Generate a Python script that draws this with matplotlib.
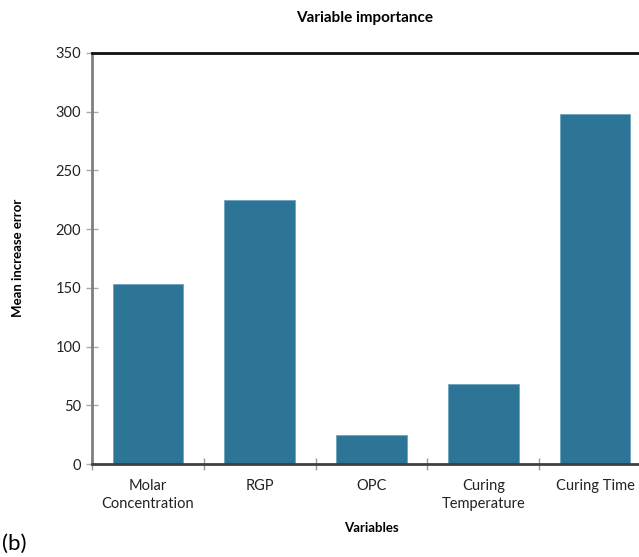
import matplotlib.pyplot as plt
import numpy as np

plt.rcParams['font.family'] = ['Lato', 'DejaVu Sans']

variables = ["Molar\nConcentration", "RGP", "OPC", "Curing\nTemperature", "Curing Time"]
importance = [153, 225, 25, 68, 298]
yticks = [0, 50, 100, 150, 200, 250, 300, 350]

bar_color = '#2D7596'

fig = plt.figure(figsize=(6.39, 5.57), dpi=100)
# axes run a little past the right edge of the figure
ax = fig.add_axes([92 / 639, 93 / 557, 559 / 639, 411 / 557])

x = np.arange(len(variables))
ax.bar(x, importance, width=0.63, color=bar_color, edgecolor='#6fa3bd', linewidth=0.6, zorder=2)

ax.set_xlim(-0.5, len(variables) - 0.5)
ax.set_ylim(0, 350)
ax.set_yticks(yticks)
ax.set_yticklabels([str(v) for v in yticks], fontsize=10.5, color='#222222')

# category labels sit between the boundary ticks
ax.set_xticks(x)
ax.set_xticklabels(variables, fontsize=10.5, color='#222222', linespacing=1.35)
ax.tick_params(axis='x', which='major', length=0, pad=11)
ax.set_xticks(np.arange(len(variables)) - 0.5, minor=True)
ax.tick_params(axis='x', which='minor', direction='inout', length=9, width=1, color='#999999')
ax.tick_params(axis='y', direction='inout', length=8, width=1, color='#aaaaaa', pad=4)

ax.spines['left'].set_color('#7f7f7f')
ax.spines['left'].set_linewidth(2)
ax.spines['bottom'].set_color('#404040')
ax.spines['bottom'].set_linewidth(2)
ax.spines['top'].set_color('#111111')
ax.spines['top'].set_linewidth(2)
ax.spines['right'].set_visible(False)

fig.text(0.571, 1 - 18 / 557, "Variable importance", ha='center', va='center',
         fontsize=11, fontweight='bold')
fig.text(18 / 639, 1 - 258 / 557, "Mean increase error", ha='center', va='center',
         rotation=90, fontsize=9.5, fontweight='bold')
fig.text(371 / 639, 1 - 528 / 557, "Variables", ha='center', va='center',
         fontsize=9.5, fontweight='bold')
fig.text(2 / 639, 1 - 544 / 557, "(b)", ha='left', va='center', fontsize=16)

fig.savefig('out.png', dpi=100)
